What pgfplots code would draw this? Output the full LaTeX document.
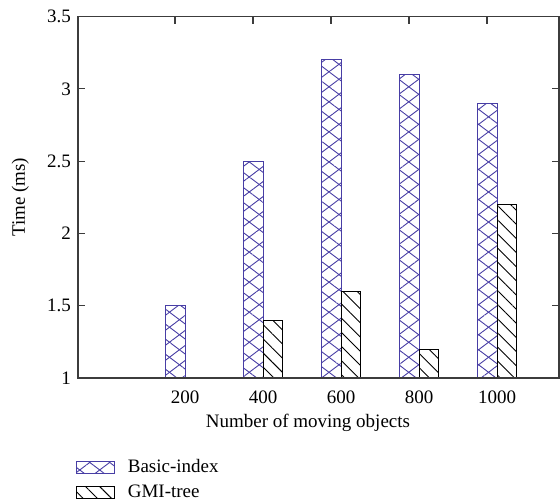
\documentclass[border=0pt]{standalone}
\usepackage{pgfplots}
\pgfplotsset{compat=1.18}
\usepackage{fontspec}
\setmainfont{Liberation Serif}
\usetikzlibrary{patterns.meta}
\definecolor{basic}{RGB}{72,62,165}
\definecolor{axgray}{RGB}{60,60,60}
\pgfplotsset{
  basicleg/.style={legend image code/.code={\draw[##1] (0pt,-3pt) rectangle (19pt,3pt);
    \begin{pgfscope}\pgfsetstrokeopacity{1}\pgfsetstrokecolor{basic}\pgfsetlinewidth{0.6pt}%
    \pgfpathrectangle{\pgfpoint{0pt}{-3pt}}{\pgfpoint{19pt}{6pt}}\pgfusepath{stroke}\end{pgfscope}
    \path (24pt,0pt);}},
  gmileg/.style={legend image code/.code={\draw[##1] (0pt,-3pt) rectangle (19pt,3pt);
    \begin{pgfscope}\pgfsetstrokeopacity{1}\pgfsetstrokecolor{black}\pgfsetlinewidth{0.6pt}%
    \pgfpathrectangle{\pgfpoint{0pt}{-3pt}}{\pgfpoint{19pt}{6pt}}\pgfusepath{stroke}\end{pgfscope}
    \path (24pt,0pt);}},
}
\begin{document}
\begin{tikzpicture}[font=\fontsize{9.5}{11}\selectfont]
\begin{axis}[
  name=ax,
  scale only axis, width=240.5pt, height=180.75pt,
  xmin=-0.372, xmax=5.795, ymin=1, ymax=3.5,
  axis on top,
  /pgf/number format/assume math mode=true,
  xtick={1,2,3,4,5}, xticklabels={200,400,600,800,1000},
  xtick style={draw=none},
  ytick={1,1.5,2,2.5,3,3.5}, yticklabels={1,1.5,2,2.5,3,3.5},
  tick align=inside, major tick length=3.5pt,
  tick style={axgray, line width=0.6pt},
  axis line style={axgray, line width=0.6pt},
  xticklabel style={yshift=-3pt},
  xlabel={Number of moving objects},
  ylabel={Time (ms)},
  xlabel style={at={(axis description cs:0.478,-0.125)}, anchor=center},
  ylabel style={at={(axis description cs:-0.12,0.5)}, anchor=center, rotate=0},
  legend style={at={(axis description cs:-0.018,-0.205)}, anchor=north west, draw=none, fill=none,
    row sep=1.5pt, nodes={inner sep=1.5pt, anchor=west}},
  legend cell align=left,
]
\addplot[ybar, bar width=0.256, bar shift=-0.128, draw=basic, line width=0.5pt,
  pattern={Lines[angle=37,distance=6pt,line width=0.45pt]}, pattern color=basic,
  postaction={pattern={Lines[angle=-37,distance=6pt,line width=0.45pt]}, pattern color=basic},
  basicleg]
  coordinates {(1,1.5) (2,2.5) (3,3.2) (4,3.1) (5,2.9)};
\addlegendentry{Basic-index}
\addplot[ybar, bar width=0.256, bar shift=0.128, draw=black, line width=0.5pt,
  pattern={Lines[angle=-45,distance=5pt,line width=0.45pt]}, pattern color=black,
  gmileg]
  coordinates {(2,1.4) (3,1.6) (4,1.2) (5,2.2)};
\addlegendentry{GMI-tree}
\end{axis}
\begin{axis}[
  scale only axis, width=240.5pt, height=180.75pt,
  xmin=-0.372, xmax=5.795, ymin=1, ymax=3.5,
  hide y axis, axis x line*=top,
  axis line style={draw=none},
  xtick={0.872,1.872,2.872,3.872,4.872}, xticklabels={},
  tick align=inside, major tick length=3.5pt,
  tick style={axgray, line width=0.6pt},
]
\end{axis}
\pgfresetboundingbox
\path[use as bounding box] (ax.south west) ++(-39pt,-61pt) rectangle ++(280pt,250pt);
\end{tikzpicture}
\end{document}
